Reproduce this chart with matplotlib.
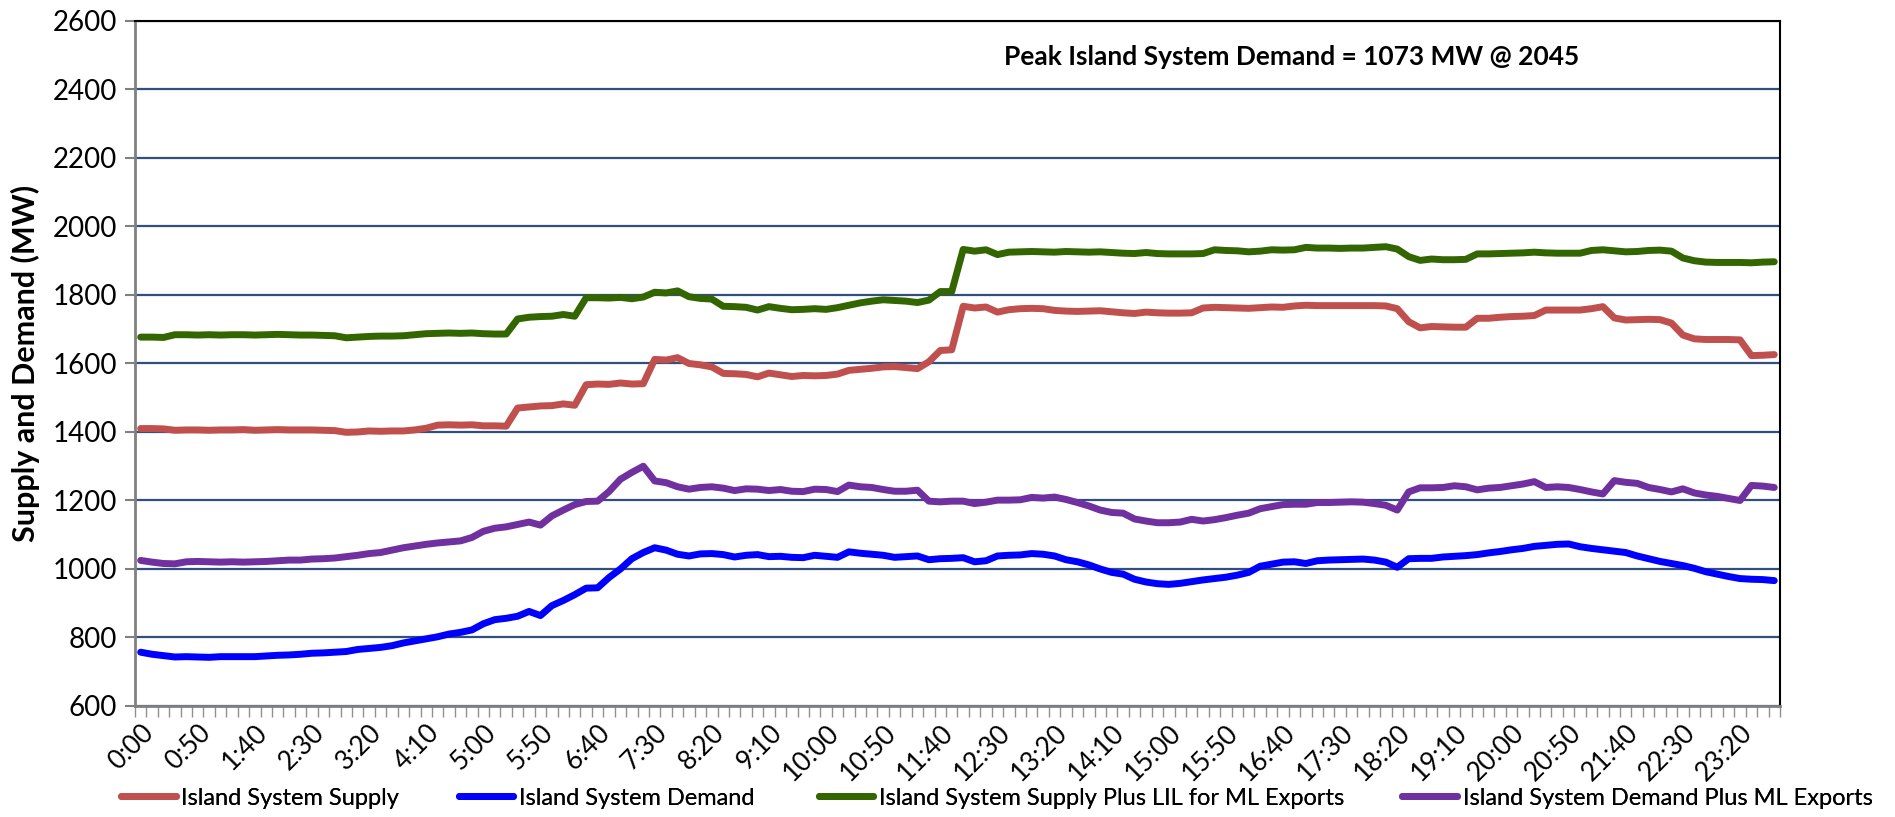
import numpy as np
import matplotlib
matplotlib.use("Agg")
from matplotlib import pyplot as plt

plt.rcParams['font.family'] = ['Lato', 'DejaVu Sans']

# 10 minute steps over the day
times = ["%d:%02d" % (m // 60, m % 60) for m in range(0, 1440, 10)]

supply = [1410, 1410, 1409, 1405, 1406, 1406, 1405, 1406, 1406, 1407,
          1405, 1406, 1407, 1406, 1406, 1406, 1405, 1404, 1399, 1400,
          1403, 1402, 1403, 1403, 1406, 1411, 1420, 1421, 1420, 1421,
          1418, 1418, 1417, 1470, 1473, 1476, 1477, 1482, 1478, 1538,
          1540, 1539, 1543, 1540, 1541, 1612, 1610, 1617, 1600, 1596,
          1590, 1571, 1570, 1568, 1561, 1572, 1567, 1562, 1565, 1564,
          1565, 1569, 1580, 1583, 1586, 1590, 1591, 1588, 1585, 1605,
          1638, 1640, 1767, 1762, 1765, 1750, 1757, 1760, 1761, 1760,
          1755, 1753, 1752, 1753, 1754, 1751, 1748, 1746, 1750, 1748,
          1747, 1747, 1748, 1762, 1764, 1763, 1762, 1761, 1763, 1765,
          1764, 1768, 1770, 1769, 1769, 1769, 1769, 1769, 1769, 1768,
          1760, 1722, 1704, 1708, 1707, 1706, 1706, 1732, 1732, 1735,
          1737, 1738, 1740, 1756, 1756, 1756, 1756, 1760, 1766, 1733,
          1727, 1728, 1729, 1728, 1718, 1683, 1672, 1670, 1670, 1670,
          1669, 1623, 1624, 1626]

demand = [757, 751, 747, 743, 744, 743, 742, 744, 744, 744,
          744, 746, 748, 749, 751, 754, 755, 757, 759, 765,
          768, 771, 776, 784, 790, 796, 802, 810, 815, 822,
          840, 852, 856, 862, 876, 864, 893, 908, 925, 944,
          945, 975, 1000, 1030, 1048, 1062, 1055, 1043, 1038, 1044,
          1045, 1042, 1035, 1040, 1042, 1036, 1037, 1034, 1033, 1040,
          1037, 1034, 1050, 1046, 1043, 1040, 1034, 1036, 1038, 1027,
          1030, 1031, 1033, 1021, 1024, 1038, 1040, 1041, 1045, 1043,
          1038, 1027, 1021, 1012, 1000, 990, 985, 970, 962, 957,
          955, 958, 963, 968, 972, 976, 982, 990, 1008, 1014,
          1020, 1021, 1016, 1024, 1026, 1027, 1028, 1029, 1026, 1020,
          1005, 1030, 1031, 1031, 1035, 1037, 1039, 1042, 1047, 1051,
          1056, 1060, 1066, 1069, 1072, 1073, 1065, 1060, 1056, 1052,
          1048, 1038, 1030, 1022, 1016, 1010, 1002, 992, 985, 978,
          972, 970, 969, 966]

supply_lil = [1677, 1677, 1676, 1684, 1684, 1683, 1684, 1683, 1684, 1684,
              1683, 1684, 1685, 1684, 1683, 1683, 1682, 1681, 1675, 1677,
              1679, 1680, 1680, 1681, 1684, 1687, 1688, 1689, 1688, 1689,
              1687, 1686, 1686, 1730, 1735, 1737, 1738, 1743, 1738, 1792,
              1792, 1791, 1793, 1789, 1794, 1808, 1806, 1812, 1795, 1790,
              1788, 1767, 1766, 1764, 1756, 1766, 1761, 1757, 1758, 1760,
              1758, 1763, 1770, 1777, 1782, 1786, 1784, 1782, 1778, 1785,
              1810, 1810, 1933, 1928, 1932, 1918, 1925, 1926, 1927, 1926,
              1925, 1927, 1926, 1925, 1926, 1924, 1922, 1921, 1924, 1921,
              1920, 1920, 1920, 1921, 1932, 1930, 1929, 1926, 1928, 1932,
              1931, 1932, 1939, 1937, 1937, 1936, 1937, 1937, 1939, 1941,
              1934, 1912, 1901, 1905, 1903, 1903, 1904, 1920, 1920, 1921,
              1922, 1923, 1925, 1923, 1922, 1922, 1922, 1930, 1932, 1929,
              1926, 1927, 1930, 1931, 1928, 1908, 1900, 1896, 1895, 1895,
              1895, 1894, 1896, 1897]

demand_ml = [1025, 1020, 1016, 1015, 1021, 1022, 1021, 1020, 1021, 1020,
             1021, 1022, 1024, 1026, 1026, 1029, 1030, 1032, 1036, 1040,
             1045, 1048, 1055, 1062, 1067, 1072, 1076, 1079, 1082, 1092,
             1110, 1119, 1123, 1130, 1137, 1128, 1155, 1172, 1188, 1197,
             1198, 1226, 1262, 1282, 1300, 1257, 1252, 1240, 1233, 1238,
             1240, 1236, 1229, 1234, 1233, 1229, 1232, 1227, 1226, 1233,
             1232, 1226, 1245, 1240, 1238, 1232, 1227, 1227, 1230, 1198,
             1196, 1198, 1198, 1191, 1195, 1201, 1201, 1202, 1209, 1207,
             1210, 1203, 1194, 1184, 1172, 1165, 1163, 1146, 1140, 1135,
             1135, 1137, 1145, 1140, 1144, 1150, 1157, 1163, 1176, 1182,
             1188, 1189, 1189, 1194, 1194, 1195, 1196, 1195, 1191, 1186,
             1172, 1225, 1237, 1237, 1238, 1243, 1240, 1231, 1236, 1238,
             1243, 1248, 1255, 1238, 1240, 1238, 1232, 1225, 1219, 1258,
             1253, 1250, 1238, 1232, 1225, 1234, 1222, 1216, 1212, 1206,
             1200, 1244, 1242, 1238]

series = [
    ("Island System Supply", supply, "#C0504D"),
    ("Island System Demand", demand, "#0000FF"),
    ("Island System Supply Plus LIL for ML Exports", supply_lil, "#336600"),
    ("Island System Demand Plus ML Exports", demand_ml, "#7030A0"),
]

fig = plt.figure(figsize=(18.95, 8.17), dpi=100)
ax = fig.add_axes([0.0712, 0.1359, 0.8681, 0.8384])

x = np.arange(len(times))
handles = []
for name, vals, col in series:
    h, = ax.plot(x, vals, color=col, lw=5, label=name, solid_capstyle='round')
    handles.append(h)

ax.set_xlim(-0.5, len(times) - 0.5)
ax.set_ylim(600, 2600)
ax.set_yticks(range(600, 2601, 200))
ax.yaxis.grid(True, color='#2F4F80', lw=1.6)
ax.set_axisbelow(True)

ax.set_xticks(x[::5])
ax.set_xticklabels(times[::5], rotation=45, ha='right', va='top',
                   rotation_mode='anchor', fontsize=19)
ax.set_xticks(np.arange(-0.5, len(times)), minor=True)
ax.tick_params(axis='x', which='major', length=0, pad=10)
ax.tick_params(axis='x', which='minor', length=8, width=1, color='#909090')
ax.tick_params(axis='y', length=7, width=1.5, color='#808080', pad=6, labelsize=20)

for s in ['left', 'bottom']:
    ax.spines[s].set_color('#808080')
    ax.spines[s].set_linewidth(2)
for s in ['top', 'right']:
    ax.spines[s].set_color('black')
    ax.spines[s].set_linewidth(1.5)

ax.set_ylabel("Supply and Demand (MW)", fontsize=22, fontweight='bold')
ax.yaxis.set_label_coords(-0.058, 0.5)

ax.text(0.703, 0.947, "Peak Island System Demand = 1073 MW @ 2045",
        transform=ax.transAxes, ha='center', va='center',
        fontsize=19, fontweight='bold')

# legend entries sit at uneven spots along the bottom
leg_x = [0.064, 0.242, 0.432, 0.74]
for h, lx in zip(handles, leg_x):
    lg = fig.legend(handles=[h], loc='center left', bbox_to_anchor=(lx, 0.023),
                    frameon=False, fontsize=17, handlelength=2.3,
                    handletextpad=0.25, borderpad=0, borderaxespad=0)
    fig.add_artist(lg)

fig.savefig("out.png", dpi=100)
